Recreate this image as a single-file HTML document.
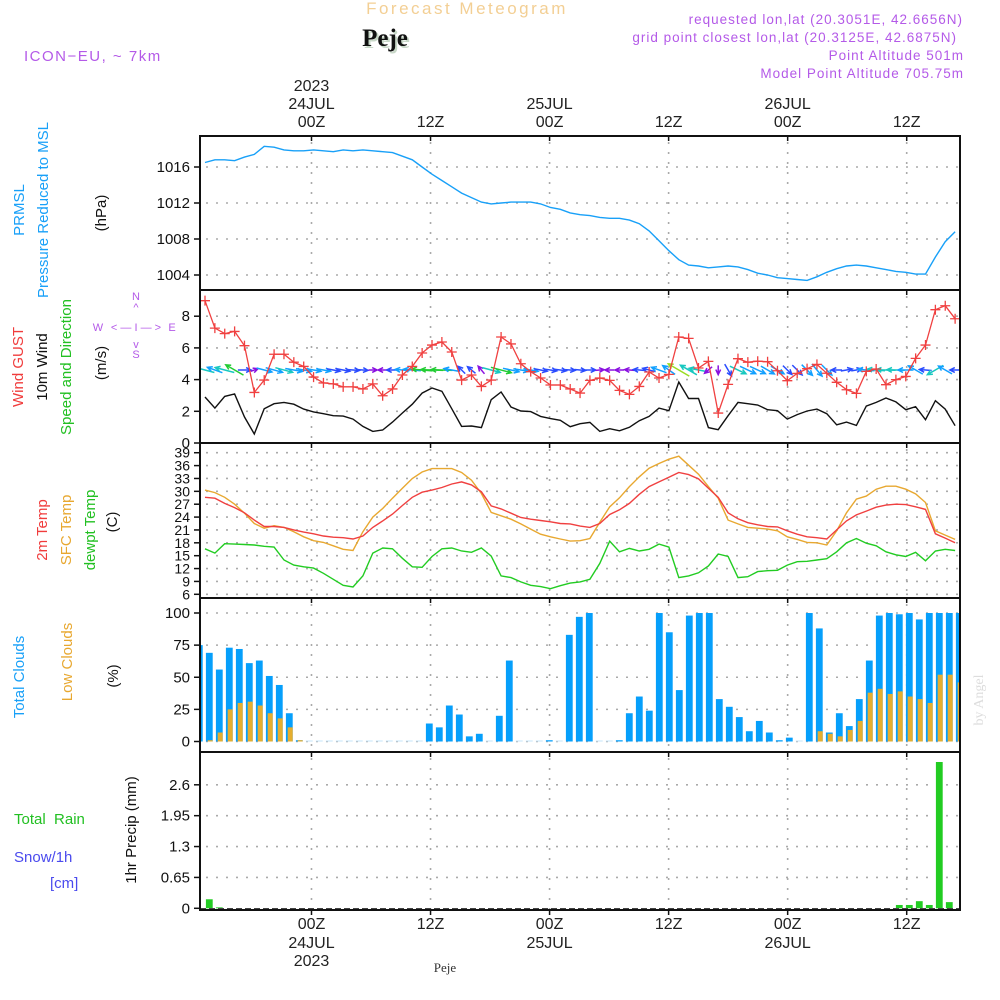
<!DOCTYPE html>
<html><head><meta charset="utf-8"><title>Forecast Meteogram - Peje</title>
<style>
html,body{margin:0;padding:0;background:#fff;}
svg{display:block;font-family:"Liberation Sans",sans-serif;}
</style></head>
<body>
<svg id="chart" width="1000" height="1000" viewBox="0 0 1000 1000" xmlns="http://www.w3.org/2000/svg">
  <rect x="0" y="0" width="1000" height="1000" fill="#fff"/>
  <text x="467" y="14" font-size="17" fill="#f3cf94" text-anchor="middle" letter-spacing="2.5">Forecast Meteogram</text>
  <text x="387" y="48" font-size="25" font-weight="bold" font-family="'Liberation Serif',serif" fill="#c8d8c8" text-anchor="middle">Peje</text>
  <text x="385" y="46" font-size="25" font-weight="bold" font-family="'Liberation Serif',serif" fill="#111" text-anchor="middle">Peje</text>
  <text x="24" y="61" font-size="15" fill="#b45ae8" letter-spacing="1.5">ICON−EU, ~ 7km</text>
  <g font-size="13.5" fill="#b45ae8" text-anchor="end" letter-spacing="1">
    <text x="963" y="24">requested lon,lat (20.3051E, 42.6656N)</text>
    <text x="957" y="42">grid point closest lon,lat (20.3125E, 42.6875N)</text>
    <text x="964" y="60">Point Altitude 501m</text>
    <text x="964" y="78">Model Point Altitude 705.75m</text>
  </g>
  <g font-size="15">
    <text transform="translate(24,210) rotate(-90)" text-anchor="middle" fill="#18a0f8">PRMSL</text>
    <text transform="translate(48,210) rotate(-90)" text-anchor="middle" fill="#18a0f8">Pressure Reduced to MSL</text>
    <text transform="translate(106,213) rotate(-90)" text-anchor="middle" fill="#111">(hPa)</text>
  </g>
  <g font-size="15">
    <text transform="translate(23,367) rotate(-90)" text-anchor="middle" fill="#f03c3c">Wind GUST</text>
    <text transform="translate(47,367) rotate(-90)" text-anchor="middle" fill="#111">10m Wind</text>
    <text transform="translate(71,367) rotate(-90)" text-anchor="middle" fill="#22c022">Speed and Direction</text>
    <text transform="translate(106,363) rotate(-90)" text-anchor="middle" fill="#111">(m/s)</text>
  </g>
  <g font-size="11" fill="#b45ae8" text-anchor="middle">
    <text x="136" y="300">N</text>
    <text x="136" y="311">^</text>
    <text x="98" y="331">W</text>
    <text x="136" y="331">&lt; — I — &gt;</text>
    <text x="172" y="331">E</text>
    <text x="136" y="348">v</text>
    <text x="136" y="358">S</text>
  </g>
  <g font-size="15">
    <text transform="translate(47,530) rotate(-90)" text-anchor="middle" fill="#f03c3c">2m Temp</text>
    <text transform="translate(71,530) rotate(-90)" text-anchor="middle" fill="#e8a830">SFC Temp</text>
    <text transform="translate(95,530) rotate(-90)" text-anchor="middle" fill="#22c022">dewpt Temp</text>
    <text transform="translate(117,522) rotate(-90)" text-anchor="middle" fill="#111">(C)</text>
  </g>
  <g font-size="15">
    <text transform="translate(24,677) rotate(-90)" text-anchor="middle" fill="#18a0f8">Total Clouds</text>
    <text transform="translate(72,662) rotate(-90)" text-anchor="middle" fill="#e8a830">Low Clouds</text>
    <text transform="translate(118,676) rotate(-90)" text-anchor="middle" fill="#111">(%)</text>
  </g>
  <g font-size="15">
    <text x="14" y="824" fill="#22c022" xml:space="preserve">Total  Rain</text>
    <text x="14" y="862" fill="#4a4aee">Snow/1h</text>
    <text x="50" y="888" fill="#4a4aee">[cm]</text>
    <text transform="translate(136,830) rotate(-90)" text-anchor="middle" fill="#111">1hr Precip (mm)</text>
  </g>
  <text transform="translate(983,700) rotate(-90)" text-anchor="middle" font-size="14" font-family="'Liberation Serif',serif" fill="#ddd">by Angel</text>
  <text x="445" y="972" font-size="13" font-family="'Liberation Serif',serif" fill="#333" text-anchor="middle">Peje</text>
  <g id="layer"></g>
</svg>
<script>
// ---------- data ----------
const timeTickHours = [0, 12, 24, 36, 48, 60];
const timeTickLabels = ["00Z", "12Z", "00Z", "12Z", "00Z", "12Z"];
const dayLabels = ["24JUL", "", "25JUL", "", "26JUL", ""];
const yearLabels = ["2023", "", "", "", "", ""];

const pressure = [1016.5,1016.8,1016.8,1016.7,1017.1,1017.4,1018.3,1018.2,1017.9,1017.8,1017.8,1017.9,1017.8,1017.7,1017.9,1017.8,1017.9,1017.8,1017.7,1017.6,
  1017.2,1016.8,1016.0,1015.2,1014.5,1013.8,1013.1,1012.6,1012.1,1011.9,1012.0,1012.1,1012.1,1012.1,1011.9,1011.5,1011.3,1010.9,1010.7,1010.6,
  1010.4,1010.3,1010.3,1010.1,1009.7,1008.9,1007.8,1006.7,1005.7,1005.1,1005.0,1004.8,1004.9,1005.0,1004.9,1004.6,1004.2,1004.0,1003.7,1003.6,
  1003.5,1003.4,1003.8,1004.3,1004.7,1005.0,1005.1,1005.0,1004.8,1004.6,1004.4,1004.3,1004.1,1004.1,1006.0,1007.7,1008.8];
const pressureTicks = [1004, 1008, 1012, 1016];

const windGust = [8.98,7.25,6.9,7.04,6.14,3.19,3.97,5.6,5.6,5.1,4.83,4.16,3.79,3.73,3.54,3.54,3.41,3.73,2.98,3.41,
  4.29,4.83,5.68,6.18,6.37,5.74,3.97,4.29,3.57,3.97,6.69,6.25,5.0,4.5,4.1,3.66,3.66,3.41,3.15,3.95,
  4.1,3.95,3.32,3.07,3.57,4.48,4.1,4.33,6.69,6.6,4.73,5.15,1.89,3.7,5.32,5.1,5.16,5.13,4.56,3.93,
  4.39,4.69,4.96,4.4,3.83,3.36,3.13,4.52,4.67,3.68,4.0,4.2,5.34,6.18,8.41,8.66,7.84];
const windSpeed = [2.9,2.2,2.94,3.09,1.64,0.57,2.16,2.48,2.56,2.45,2.14,1.96,1.85,1.72,1.7,1.51,1.05,0.73,0.82,1.32,
  1.89,2.45,3.15,3.47,3.26,2.16,1.05,1.07,0.97,2.73,3.22,2.27,2.02,1.98,1.68,1.54,1.43,1.03,1.22,1.3,
  0.73,0.9,0.77,0.99,1.41,1.68,2.2,2.04,3.85,2.81,2.81,0.97,0.84,1.72,2.56,2.48,2.4,2.1,2.04,1.51,
  1.79,2.02,2.14,1.85,1.15,1.32,1.11,2.33,2.56,2.84,2.59,2.1,2.29,1.47,2.67,2.14,1.09];
const windDir = [165,160,165,150,0,20,-15,-15,-15,-10,-10,-10,-10,-10,-10,-5,-5,0,180,180,
  175,175,175,178,178,170,135,140,130,-15,-15,-12,-10,-10,-10,-8,-8,-5,-5,0,
  5,180,180,175,175,165,160,145,150,150,170,220,270,300,-25,-25,-25,-30,-30,-45,
  -45,-45,-50,-45,180,10,10,175,175,178,178,180,150,175,210,150,180];
const windTicks = [0, 2, 4, 6, 8];

const temp2m = [28.6,28.4,27.2,26.2,25.0,23.3,21.8,21.8,21.6,21.0,20.5,20.1,19.6,19.3,19.2,18.9,19.6,21.6,23.1,24.7,
  26.7,28.6,29.8,30.3,30.9,31.7,32.2,31.5,29.9,26.6,25.9,24.9,23.9,23.5,23.2,22.9,22.5,22.4,21.9,21.6,
  22.5,24.6,25.7,27.2,29.3,31.1,32.2,33.3,34.4,33.9,32.9,30.7,28.6,25.0,23.6,22.7,22.2,21.8,21.7,20.8,
  20.0,19.4,19.2,18.9,21.0,23.1,24.5,25.4,26.3,26.8,27.0,26.9,26.4,25.8,20.1,19.1,18.0];
const tempSfc = [30.3,29.7,28.6,27.0,24.9,22.5,21.4,22.0,21.6,20.6,19.4,18.5,18.1,17.3,16.5,16.2,20.6,24.0,26.0,28.4,
  30.7,33.0,34.5,35.3,35.3,35.3,34.4,32.6,29.5,25.1,24.3,23.5,22.4,21.2,20.0,19.4,18.9,18.4,18.5,19.0,
  22.8,26.4,28.5,31.1,33.4,35.4,36.5,37.5,38.2,36.1,34.0,31.1,28.4,23.3,22.4,21.6,21.4,21.2,20.8,19.4,
  18.8,18.1,18.0,17.5,20.8,25.0,28.2,28.9,30.5,31.2,31.2,30.5,29.4,27.4,20.8,19.8,18.8];
const dewpoint = [16.6,15.6,17.8,17.7,17.6,17.5,17.2,17.0,14.0,12.8,12.4,12.1,10.9,9.5,8.1,7.7,10.3,15.6,16.8,16.6,
  14.4,12.4,12.3,14.8,16.6,16.8,16.1,15.8,16.8,14.9,10.3,9.9,8.9,8.1,7.8,7.3,8.0,8.6,8.9,9.5,
  13.2,18.4,15.9,16.7,16.1,16.5,17.7,17.0,9.9,10.3,11.0,12.6,15.4,14.8,9.9,10.1,11.3,11.5,11.6,12.8,
  13.6,13.7,14.0,14.3,15.9,18.0,19.0,17.9,17.3,15.9,15.2,14.8,15.8,13.8,16.1,16.5,16.2];
const tempTicks = [6,9,12,15,18,21,24,27,30,33,36,39];

const totalClouds = [75,69,56,73,72,61,63,51,44,22,1,0,0,0,0,0,0,0,0,0,
  0,0,0,14,11,28,21,4,6,0,20,63,0,0,0,1,0,83,97,100,
  0,0,1,22,35,24,100,85,40,98,100,100,33,27,19,8,16,7,1,3,
  0,100,88,7,22,12,33,63,98,100,99,100,95,100,100,100,100];
const lowClouds = [0,1,7,25,30,31,28,22,18,11,1,0,0,0,0,0,0,0,0,0,
  0,0,0,0,0,0,0,0,0,0,0,0,0,0,0,0,0,0,0,0,
  0,0,0,0,0,0,0,0,0,0,0,0,0,0,0,0,0,0,0,0,
  0,0,8,6,4,9,16,38,41,37,39,35,33,30,52,52,46];
const cloudTicks = [0, 25, 50, 75, 100];

const precip = [0,0.19,0.02,0,0,0,0,0,0,0,0,0,0,0,0,0,0,0,0,0,
  0,0,0,0,0,0,0,0,0,0,0,0,0,0,0,0,0,0,0,0,
  0,0,0,0,0,0,0,0,0,0,0,0,0,0,0,0,0,0,0,0,
  0,0,0,0,0,0,0,0,0,0,0.07,0.07,0.15,0.07,3.08,0.13,0];
const precipTicks = [0, 0.65, 1.3, 1.95, 2.6];
const precipTickLabels = ["0", "0.65", "1.3", "1.95", "2.6"];

// ---------- scales ----------
const X0 = 200, X1 = 960;
function xTime(h) { return 311.5 + h * 9.92; }
function xLine(i) { return 205 + i * 9.87; }
function xBar(i) { return 199.3 + i * 10; }
function yPres(p) { return 167 + (1016 - p) * 9.0; }
function yWind(v) { return 443 - v * 15.85; }
function yTemp(t) { return 594.3 - (t - 6) * 4.29; }
function yCloud(c) { return 741.5 - c * 1.285; }
function yPrecip(v) { return 908.3 - v * 47.5; }

const panels = [
  {name: 'pressure', top: 136, bottom: 290},
  {name: 'wind', top: 290, bottom: 443},
  {name: 'temperature', top: 443, bottom: 598},
  {name: 'clouds', top: 598, bottom: 752},
  {name: 'precip', top: 752, bottom: 910}
];

const NS = 'http://www.w3.org/2000/svg';
const layer = document.getElementById('layer');
const svg = document.getElementById('chart');
function mk(tag, attrs, parent) {
  const e = document.createElementNS(NS, tag);
  for (const k in attrs) e.setAttribute(k, attrs[k]);
  (parent || layer).appendChild(e);
  return e;
}

const defs = mk('defs', {}, svg);
panels.forEach(function (p) {
  const cp = mk('clipPath', {id: 'clip-' + p.name}, defs);
  mk('rect', {x: X0, y: p.top, width: X1 - X0, height: p.bottom - p.top}, cp);
});

// ---------- grids ----------
const gridG = mk('g', {stroke: '#aaa', 'stroke-width': 1.6, 'stroke-dasharray': '2,8', fill: 'none'});


function hGrid(y, name) {
  const l = mk('line', {x1: X0 + 6, x2: X1, y1: y, y2: y}, gridG);
  
  
}
panels.forEach(function (p) {
  timeTickHours.forEach(function (h) {
    const l = mk('line', {x1: xTime(h), x2: xTime(h), y1: p.top + 6, y2: p.bottom}, gridG);
    
    
  });
});
pressureTicks.forEach(function (v) { hGrid(yPres(v), 'pressure-grid-line'); });
windTicks.forEach(function (v) { if (v > 0) hGrid(yWind(v), 'wind-grid-line'); });
tempTicks.forEach(function (v) { hGrid(yTemp(v), 'temp-grid-line'); });
cloudTicks.forEach(function (v) { hGrid(yCloud(v), 'cloud-grid-line'); });
precipTicks.forEach(function (v) { if (v > 0) hGrid(yPrecip(v), 'precip-grid-line'); });

// ---------- y tick labels ----------
const tickG = mk('g', {'font-size': 15, fill: '#111', 'text-anchor': 'end'});


function yTick(y, label, name, fs) {
  const t = mk('text', {x: 190, y: y + 5, 'font-size': fs || 15}, tickG);
  t.textContent = label;
  
  
  const l = mk('line', {x1: 194, x2: 200, y1: y, y2: y, stroke: '#111', 'stroke-width': 1.5}, tickG);
  
  
}
pressureTicks.forEach(function (v) { yTick(yPres(v), String(v), 'pressure-tick-label'); });
windTicks.forEach(function (v) { yTick(yWind(v), String(v), 'wind-tick-label'); });
tempTicks.forEach(function (v) { yTick(yTemp(v), String(v), 'temp-tick-label', 14); });
cloudTicks.forEach(function (v) { yTick(yCloud(v), String(v), 'cloud-tick-label'); });
precipTicks.forEach(function (v, k) { yTick(yPrecip(v), precipTickLabels[k], 'precip-tick-label'); });

// ---------- x axis labels ----------
const xG = mk('g', {'font-size': 16, fill: '#222', 'text-anchor': 'middle'});


timeTickHours.forEach(function (h, k) {
  const x = xTime(h);
  const t1 = mk('text', {x: x, y: 127}, xG);
  t1.textContent = timeTickLabels[k];
  
  
  if (dayLabels[k]) {
    const t2 = mk('text', {x: x, y: 109}, xG);
    t2.textContent = dayLabels[k];
    
    
    const t4 = mk('text', {x: x, y: 948}, xG);
    t4.textContent = dayLabels[k];
    
    
  }
  if (yearLabels[k]) {
    const t3 = mk('text', {x: x, y: 91}, xG);
    t3.textContent = yearLabels[k];
    
    
    const t5 = mk('text', {x: x, y: 966}, xG);
    t5.textContent = yearLabels[k];
    
    
  }
  const t6 = mk('text', {x: x, y: 929}, xG);
  t6.textContent = timeTickLabels[k];
  
  
  panels.forEach(function (p) {
    const tk = mk('line', {x1: x, x2: x, y1: p.top, y2: p.top + 5, stroke: '#111', 'stroke-width': 1.5}, xG);
    
    
  });
  const bt = mk('line', {x1: x, x2: x, y1: 910, y2: 915, stroke: '#111', 'stroke-width': 1.5}, xG);
  
  
});

function linePath(arr, yf) {
  return arr.map(function (v, i) { return (i ? 'L' : 'M') + xLine(i).toFixed(1) + ',' + yf(v).toFixed(1); }).join('');
}

// pressure
const pG = mk('g', {'clip-path': 'url(#clip-pressure)'});


const pl = mk('path', {d: linePath(pressure, yPres), fill: 'none', stroke: '#18a0f8', 'stroke-width': 1.4}, pG);



// wind
const wG = mk('g', {'clip-path': 'url(#clip-wind)'});


const ws = mk('path', {d: linePath(windSpeed, yWind), fill: 'none', stroke: '#111', 'stroke-width': 1.4}, wG);


function windColor(s) {
  if (s < 1) return '#8a10e0';
  if (s < 1.8) return '#2a4cff';
  if (s < 2.5) return '#12a0ff';
  if (s < 3.0) return '#18c8c0';
  if (s < 3.6) return '#22cc33';
  return '#99dd22';
}
windDir.forEach(function (d, i) {
  const s = windSpeed[i];
  const len = 5 + s * 5;
  const a = d * Math.PI / 180;
  const cx = xLine(i), cy = 370;
  const dx = Math.cos(a) * len / 2, dy = -Math.sin(a) * len / 2;
  const hx = cx + dx, hy = cy + dy;
  const h = 5.5;
  const a1 = a + Math.PI - 0.45, a2 = a + Math.PI + 0.45;
  const col = windColor(s);
  const ar = mk('path', {
    d: 'M' + (cx - dx).toFixed(1) + ',' + (cy - dy).toFixed(1) + 'L' + hx.toFixed(1) + ',' + hy.toFixed(1) +
       'M' + (hx + Math.cos(a1) * h).toFixed(1) + ',' + (hy - Math.sin(a1) * h).toFixed(1) + 'L' + hx.toFixed(1) + ',' + hy.toFixed(1) +
       'L' + (hx + Math.cos(a2) * h).toFixed(1) + ',' + (hy - Math.sin(a2) * h).toFixed(1),
    fill: 'none', stroke: col, 'stroke-width': 1.5}, wG);
  
  
});
const wgl = mk('path', {d: linePath(windGust, yWind), fill: 'none', stroke: '#f04040', 'stroke-width': 1.3}, wG);


windGust.forEach(function (v, i) {
  const x = xLine(i), y = yWind(v);
  const m = mk('path', {d: 'M' + (x - 5) + ',' + y + 'L' + (x + 5) + ',' + y + 'M' + x + ',' + (y - 5) + 'L' + x + ',' + (y + 5), stroke: '#f04040', 'stroke-width': 1.3}, wG);
  
  
});

// temperature
const tG = mk('g', {'clip-path': 'url(#clip-temperature)'});


const tsf = mk('path', {d: linePath(tempSfc, yTemp), fill: 'none', stroke: '#e8a830', 'stroke-width': 1.4}, tG);


const t2 = mk('path', {d: linePath(temp2m, yTemp), fill: 'none', stroke: '#f04040', 'stroke-width': 1.4}, tG);


const td = mk('path', {d: linePath(dewpoint, yTemp), fill: 'none', stroke: '#22cc22', 'stroke-width': 1.4}, tG);



// clouds
const cG = mk('g', {'clip-path': 'url(#clip-clouds)'});


totalClouds.forEach(function (v, i) {
  const x = xBar(i) - 3.4;
  const h = v === 0 ? 1 : v * 1.285;
  const b = mk('rect', {x: x, y: yCloud(v) - (v === 0 ? 1 : 0), width: 6.8, height: h, fill: v === 0 ? '#c4e4fa' : '#069ffb'}, cG);
  
  
});
lowClouds.forEach(function (v, i) {
  if (v <= 0) return;
  const x = xBar(i) - 1.6;
  const b = mk('rect', {x: x, y: yCloud(v), width: 5, height: v * 1.285, fill: '#e6ae2e'}, cG);
  
  
});

// precip
const rG = mk('g', {'clip-path': 'url(#clip-precip)'});


precip.forEach(function (v, i) {
  if (v <= 0) return;
  const b = mk('rect', {x: xBar(i) - 3.4, y: yPrecip(v), width: 6.8, height: v * 47.5, fill: '#22cc22'}, rG);
  
  
});
const zl = mk('line', {x1: X0, x2: X1, y1: 908.5, y2: 908.5, stroke: '#444', 'stroke-width': 1, 'stroke-dasharray': '6,3'}, rG);



// borders
panels.forEach(function (p) {
  const r = mk('rect', {x: X0, y: p.top, width: X1 - X0, height: p.bottom - p.top, fill: 'none', stroke: '#111', 'stroke-width': 2});
  
  
});
</script>
</body></html>
